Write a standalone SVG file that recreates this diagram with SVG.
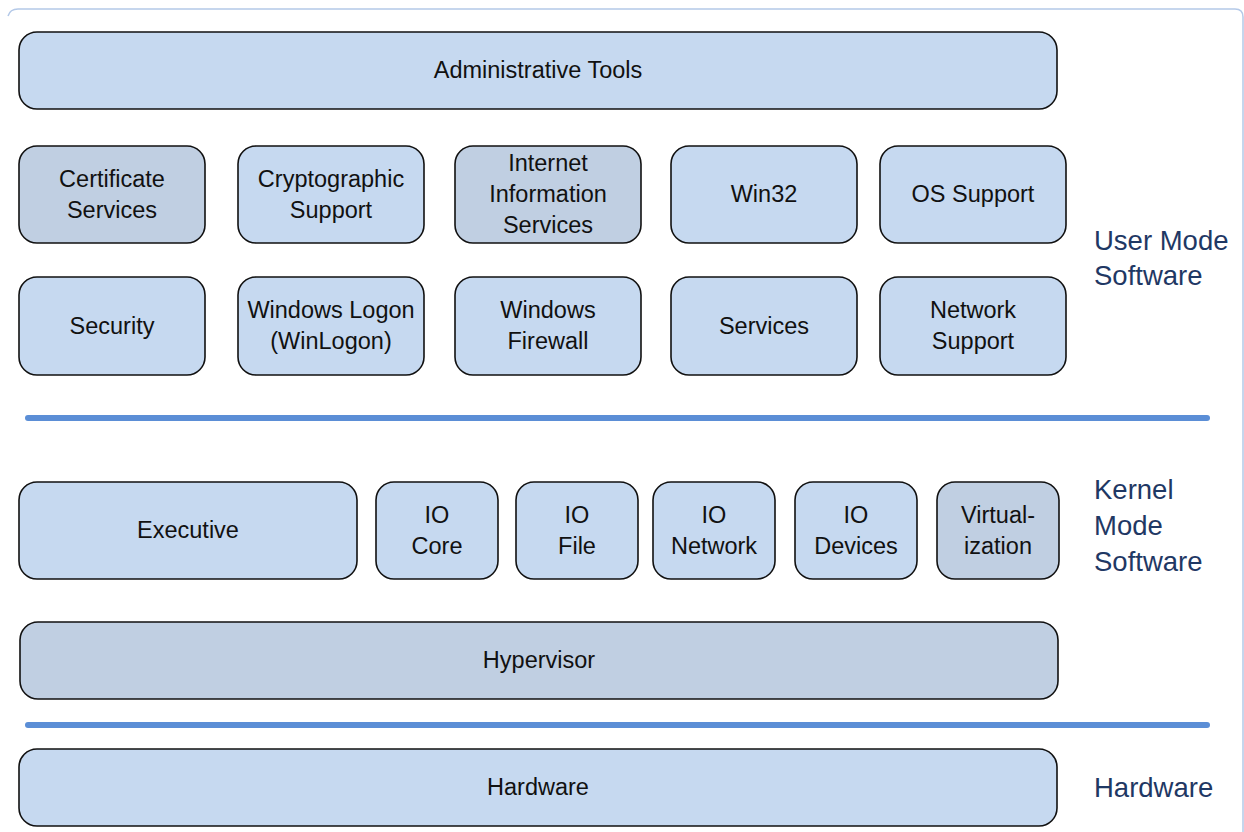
<svg xmlns="http://www.w3.org/2000/svg" width="1244" height="832" viewBox="0 0 1244 832">
<style>
.n{stroke:#111;stroke-width:1.6}
.l{fill:#c6d9f0}
.g{fill:#c0cfe2}
.t{font-family:"Liberation Sans",Arial,sans-serif;font-size:23.5px;fill:#111;text-anchor:middle}
.lab{font-family:"Liberation Sans",Arial,sans-serif;font-size:27.5px;fill:#1f3864}
.sep{stroke:#5b8ed6;stroke-width:6;stroke-linecap:round}
</style>
<rect width="1244" height="832" fill="#fff"/>
<path d="M8,16 Q10,9 18,9 L1235,9 Q1243,9 1243,17 L1243,832" fill="none" stroke="#b4c9e8" stroke-width="1.5"/>
<g id="connectors">
<line class="sep" x1="28" y1="418" x2="1207" y2="418"/>
<line class="sep" x1="28" y1="725" x2="1207" y2="725"/>
</g>
<g id="admin"><rect class="n l" x="19" y="32" width="1038" height="77" rx="18"/><text class="t" x="538" y="78">Administrative Tools</text></g>
<g id="cert"><rect class="n g" x="19" y="146" width="186" height="97" rx="18"/><text class="t" x="112" y="187">Certificate</text><text class="t" x="112" y="218">Services</text></g>
<g id="crypto"><rect class="n l" x="238" y="146" width="186" height="97" rx="18"/><text class="t" x="331" y="187">Cryptographic</text><text class="t" x="331" y="218">Support</text></g>
<g id="iis"><rect class="n g" x="455" y="146" width="186" height="97" rx="18"/><text class="t" x="548" y="171">Internet</text><text class="t" x="548" y="202">Information</text><text class="t" x="548" y="233">Services</text></g>
<g id="win32"><rect class="n l" x="671" y="146" width="186" height="97" rx="18"/><text class="t" x="764" y="202">Win32</text></g>
<g id="ossupport"><rect class="n l" x="880" y="146" width="186" height="97" rx="18"/><text class="t" x="973" y="202">OS Support</text></g>
<g id="security"><rect class="n l" x="19" y="277" width="186" height="98" rx="18"/><text class="t" x="112" y="334">Security</text></g>
<g id="winlogon"><rect class="n l" x="238" y="277" width="186" height="98" rx="18"/><text class="t" x="331" y="318">Windows Logon</text><text class="t" x="331" y="349">(WinLogon)</text></g>
<g id="firewall"><rect class="n l" x="455" y="277" width="186" height="98" rx="18"/><text class="t" x="548" y="318">Windows</text><text class="t" x="548" y="349">Firewall</text></g>
<g id="services"><rect class="n l" x="671" y="277" width="186" height="98" rx="18"/><text class="t" x="764" y="334">Services</text></g>
<g id="netsupport"><rect class="n l" x="880" y="277" width="186" height="98" rx="18"/><text class="t" x="973" y="318">Network</text><text class="t" x="973" y="349">Support</text></g>
<g id="executive"><rect class="n l" x="19" y="482" width="338" height="97" rx="18"/><text class="t" x="188" y="538">Executive</text></g>
<g id="iocore"><rect class="n l" x="376" y="482" width="122" height="97" rx="18"/><text class="t" x="437" y="523">IO</text><text class="t" x="437" y="554">Core</text></g>
<g id="iofile"><rect class="n l" x="516" y="482" width="122" height="97" rx="18"/><text class="t" x="577" y="523">IO</text><text class="t" x="577" y="554">File</text></g>
<g id="ionetwork"><rect class="n l" x="653" y="482" width="122" height="97" rx="18"/><text class="t" x="714" y="523">IO</text><text class="t" x="714" y="554">Network</text></g>
<g id="iodevices"><rect class="n l" x="795" y="482" width="122" height="97" rx="18"/><text class="t" x="856" y="523">IO</text><text class="t" x="856" y="554">Devices</text></g>
<g id="virt"><rect class="n g" x="937" y="482" width="122" height="97" rx="18"/><text class="t" x="998" y="523">Virtual-</text><text class="t" x="998" y="554">ization</text></g>
<g id="hypervisor"><rect class="n g" x="20" y="622" width="1038" height="77" rx="18"/><text class="t" x="539" y="668">Hypervisor</text></g>
<g id="hardware"><rect class="n l" x="19" y="749" width="1038" height="77" rx="18"/><text class="t" x="538" y="795">Hardware</text></g>
<g id="labels">
<text class="lab" x="1094" y="250">User Mode</text>
<text class="lab" x="1094" y="285">Software</text>
<text class="lab" x="1094" y="499">Kernel</text>
<text class="lab" x="1094" y="535">Mode</text>
<text class="lab" x="1094" y="571">Software</text>
<text class="lab" x="1094" y="797">Hardware</text>
</g>
</svg>
